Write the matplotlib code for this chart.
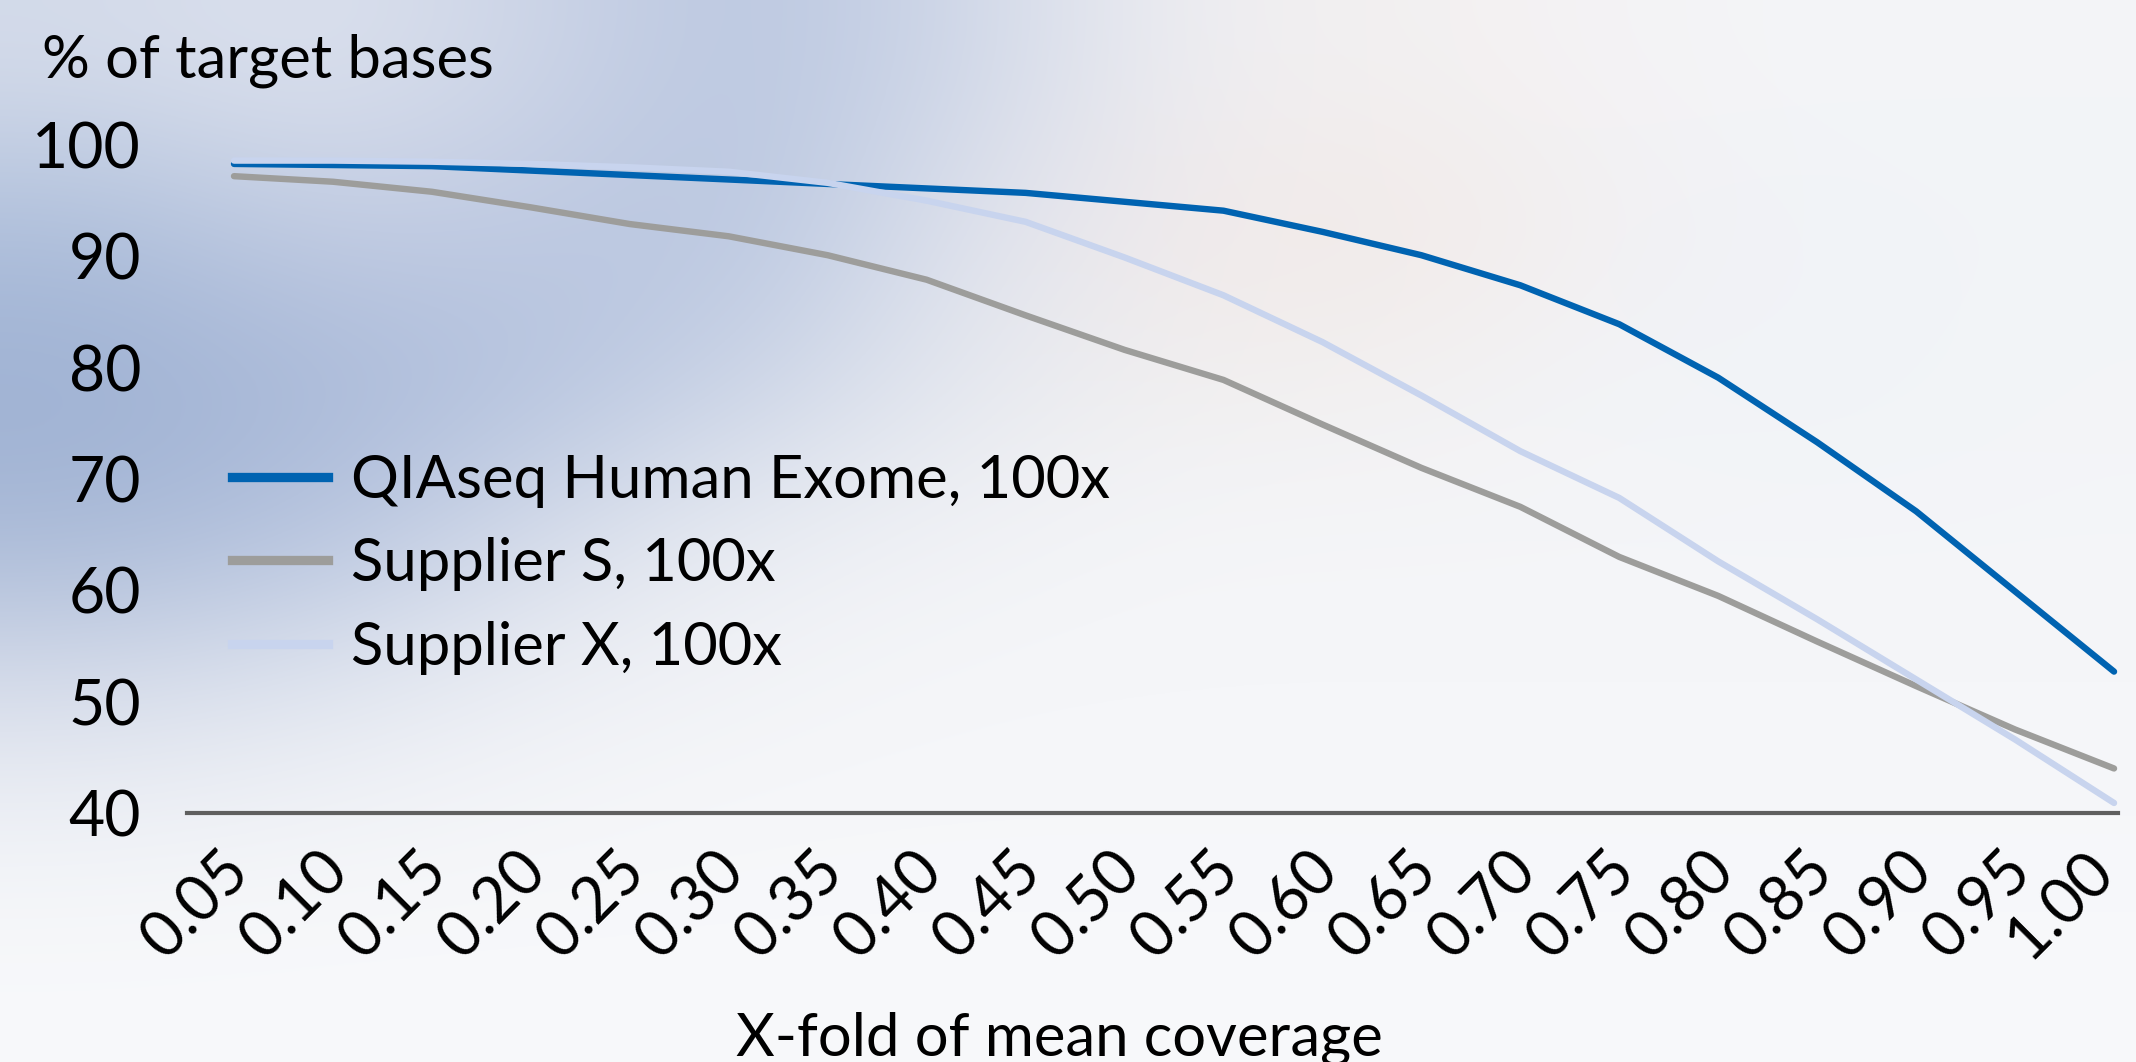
import numpy as np
import matplotlib
matplotlib.use("Agg")
import matplotlib.pyplot as plt
import matplotlib.colors as mcolors
import matplotlib.transforms as mtransforms
from matplotlib.lines import Line2D

# ---------------- data ----------------
categories = ["0.05", "0.10", "0.15", "0.20", "0.25", "0.30", "0.35", "0.40", "0.45", "0.50",
              "0.55", "0.60", "0.65", "0.70", "0.75", "0.80", "0.85", "0.90", "0.95", "1.00"]
qiaseq = [98.3, 98.2, 98.1, 97.7, 97.3, 96.9, 96.5, 96.1, 95.7, 94.9,
          94.1, 92.2, 90.1, 87.4, 83.9, 79.1, 73.3, 67.1, 59.9, 52.7]
supplier_s = [97.2, 96.7, 95.8, 94.4, 92.9, 91.8, 90.1, 87.9, 84.7, 81.6,
              78.9, 74.9, 71.0, 67.5, 63.0, 59.5, 55.4, 51.4, 47.5, 44.0]
supplier_x = [98.6, 98.6, 98.5, 98.3, 98.0, 97.6, 96.6, 95.0, 93.1, 89.9,
              86.5, 82.3, 77.5, 72.5, 68.3, 62.6, 57.4, 52.0, 46.6, 40.9]
series_labels = ["QIAseq Human Exome, 100x", "Supplier S, 100x", "Supplier X, 100x"]
y_ticks = [40, 50, 60, 70, 80, 90, 100]
y_title = "% of target bases"
x_title = "X-fold of mean coverage"

# ---------------- style ----------------
W, H, DPI = 2136, 1062, 100
FONT = ["Lato", "DejaVu Sans"]
FS_NUM = 45
FS_TXT = 43
plt.rcParams["font.family"] = FONT
C_BLUE = "#0063b1"
C_GRAY = "#9d9d9b"
C_LIGHT = "#c8d4ee"

fig = plt.figure(figsize=(W / DPI, H / DPI), dpi=DPI)

# soft gradient backdrop (coarse colour grid, smoothly interpolated)
bg_hex = [
    ["#d4dbea", "#dde2ee", "#cdd5e7", "#b9c6e0", "#cfd7e8", "#eeeef2", "#f3f0f0", "#f4f3f5", "#f4f5f8", "#f3f5f8"],
    ["#aebfdb", "#c3cde3", "#bfcae2", "#b7c5df", "#dfe3ee", "#f1eaea", "#f2e9e6", "#f2f0f2", "#f0f3f8", "#f3f4f7"],
    ["#9eb1d3", "#a9b9d8", "#b3c2de", "#cad3e6", "#e6e9f0", "#f1efef", "#f2f0f0", "#f3f4f7", "#f0f3f8", "#f3f5f8"],
    ["#a7b8d6", "#b4c2de", "#d3dae9", "#eaedf3", "#f1f2f5", "#f4f5f8", "#f4f5f8", "#f4f5f8", "#f4f5f8", "#f4f5f8"],
    ["#d6dcea", "#e0e5ef", "#eef0f5", "#f3f4f7", "#f5f6f9", "#f5f6f9", "#f5f6f9", "#f5f6f9", "#f5f6f9", "#f5f6f9"],
    ["#f1f3f7", "#f4f5f8", "#f5f6f9", "#f6f7fa", "#f6f7fa", "#f6f7fa", "#f6f7fa", "#f6f7fa", "#f6f7fa", "#f6f7fa"],
    ["#f8f9fb", "#f8f9fb", "#f8f9fb", "#f8f9fb", "#f8f9fb", "#f8f9fb", "#f8f9fb", "#f8f9fb", "#f8f9fb", "#f8f9fb"],
]
bg = np.array([[mcolors.to_rgb(c) for c in row] for row in bg_hex])
bgax = fig.add_axes([0, 0, 1, 1], zorder=0)
bgax.imshow(bg, aspect="auto", interpolation="bicubic", extent=(0, 1, 0, 1))
bgax.set_axis_off()

# ---------------- main axes ----------------
ax = fig.add_axes([187 / W, (H - 813) / H, (2118 - 187) / W, (813 - 145) / H], zorder=1)
ax.patch.set_alpha(0)
x = np.arange(len(categories))
ax.plot(x, qiaseq, color=C_BLUE, lw=4.6, solid_capstyle="round", solid_joinstyle="round", clip_on=False, zorder=3)
ax.plot(x, supplier_s, color=C_GRAY, lw=4.6, solid_capstyle="round", solid_joinstyle="round", clip_on=False, zorder=2)
ax.plot(x, supplier_x, color=C_LIGHT, lw=4.6, solid_capstyle="round", solid_joinstyle="round", clip_on=False, zorder=4)

ax.set_xlim(-0.475, 19.04)
ax.set_ylim(40, 100)
ax.set_yticks(y_ticks)
ax.set_yticklabels([str(v) for v in y_ticks], fontsize=FS_NUM)
ax.set_xticks(x)
ax.set_xticklabels(categories, fontsize=FS_NUM, rotation=45, ha="right", va="center",
                   rotation_mode="anchor")
ax.tick_params(axis="y", length=0, pad=33)
ax.tick_params(axis="x", length=0, pad=35)
labs = ax.get_xticklabels()
for i, lab in enumerate(labs):
    dx = 6 if i < len(labs) - 1 else -10
    lab.set_transform(lab.get_transform() +
                      mtransforms.ScaledTranslation(dx / DPI, 0, fig.dpi_scale_trans))

for s in ["top", "right", "left"]:
    ax.spines[s].set_visible(False)
ax.spines["bottom"].set_color("#5f5f5f")
ax.spines["bottom"].set_linewidth(3)

# legend
handles = [Line2D([], [], color=c, lw=6.7) for c in (C_BLUE, C_GRAY, C_LIGHT)]
ax.legend(handles, series_labels, loc="upper left", bbox_to_anchor=(232 / W, 1 - 454 / H),
          bbox_transform=fig.transFigure, frameon=False, fontsize=FS_TXT,
          handlelength=1.61, handletextpad=0.385, labelspacing=0.49,
          borderpad=0, borderaxespad=0)

# titles
fig.text(42 / W, 1 - 77 / H, y_title, fontsize=FS_TXT, ha="left", va="baseline")
fig.text(1059 / W, 1 - 1055 / H, x_title, fontsize=FS_TXT, ha="center", va="baseline")

fig.savefig("out.png", dpi=DPI)
